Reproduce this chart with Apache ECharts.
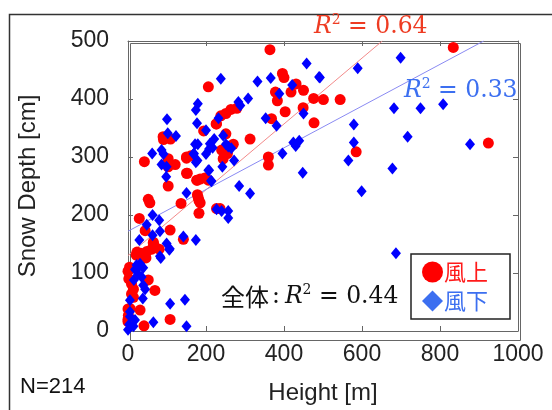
<!DOCTYPE html>
<html><head><meta charset="utf-8">
<script src="https://cdn.jsdelivr.net/npm/echarts@6/dist/echarts.min.js"></script>
<style>html,body{margin:0;padding:0;background:#fff}#c{width:552px;height:410px}</style>
</head><body><div id="c"></div>
<script>
// Height [m], Snow depth [cm]
const windwardPoints = [
 [364,485],[834,489],[206,421],[396,444],[400,437],[431,426],[450,415],[378,412],[418,412],[383,397],
 [476,401],[501,399],[544,399],[449,385],[403,378],[368,366],[477,359],[279,384],[264,382],[251,375],
 [238,371],[227,357],[194,345],[90,335],[109,331],[91,330],[251,340],[270,322],[313,331],[255,306],
 [244,297],[161,302],[150,298],[42,292],[103,297],[121,287],[103,283],[152,272],[178,260],[197,264],
 [360,300],[360,286],[585,309],[924,324],[103,250],[206,260],[52,227],[56,221],[136,220],[178,235],
 [182,225],[182,203],[227,211],[236,211],[29,194],[44,173],[108,174],[142,158],[65,151],[61,141],
 [80,141],[21,131],[33,134],[48,137],[46,126],[0,103],[52,88],[69,70],[9,81],[14,72],
 [9,64],[14,58],[5,39],[31,36],[1,27],[108,20],[0,20],[41,9],[0,16],[185,221],
 [180,230],[176,260],[150,272],[185,262],[150,300],[65,153],[69,145],[23,136],[0,38],[262,318],
 [255,312],[240,312],[226,357],[2,90],[4,110]
];
const leewardPoints = [
 [458,461],[238,435],[332,430],[366,436],[421,424],[490,438],[388,409],[308,401],[283,395],[288,389],
 [450,375],[353,367],[381,354],[232,367],[179,392],[174,381],[100,365],[177,358],[200,346],[102,341],
 [123,336],[244,337],[221,331],[251,322],[210,323],[179,322],[217,316],[257,318],[200,305],[169,306],
 [174,291],[272,294],[62,306],[86,312],[91,305],[86,287],[99,283],[208,277],[213,259],[98,266],
 [448,273],[396,306],[424,325],[439,328],[430,319],[285,250],[699,471],[589,453],[492,437],[682,384],
 [750,384],[808,391],[579,356],[579,325],[717,335],[877,322],[565,294],[678,280],[599,241],[687,134],
 [242,283],[214,258],[313,237],[150,238],[240,207],[257,207],[257,195],[63,200],[80,191],[48,183],
 [82,172],[63,165],[142,163],[174,157],[29,157],[99,151],[106,140],[82,129],[22,114],[31,116],
 [39,109],[18,106],[26,98],[35,93],[39,79],[44,72],[38,56],[5,53],[108,47],[146,54],
 [5,33],[5,25],[65,15],[18,19],[14,8],[3,11],[150,8],[0,2],[206,277],[172,322],
 [168,305],[178,294],[227,210],[84,126],[26,109],[15,88],[107,142],[208,314],[265,315]
];
const windwardFit = [[0,130],[652,500]];
const leewardFit = [[0,172],[912,500]];
const xTicks = [0,200,400,600,800,1000];
const yTicks = [0,100,200,300,400,500];
const seriesNames = ['風上','風下'];
const r2Labels = ['0.64','0.33','0.44'];
const sampleLabel = 'N=214';

const chart = echarts.init(document.getElementById('c'));
const axisFont = 'Liberation Sans';
const mathFont = 'DejaVu Serif';
function r2rich(color, val, prefix){
  return {
    text: (prefix ? '{c|' + prefix + '}{k|:}' : '') + '{i|R}{s|2}{n| = ' + val + '}',
    rich: {
      c: {fontFamily: 'Noto Sans CJK JP', fontSize: 24, fill: color, color: color},
      k: {fontFamily: mathFont, fontSize: 23.5, fill: color, color: color, padding:[0,5,0,3]},
      i: {fontFamily: mathFont, fontStyle: 'italic', fontSize: 23.5, fill: color, color: color},
      s: {fontFamily: mathFont, fontSize: 14, fill: color, color: color, padding: [0,0,13,0]},
      n: {fontFamily: mathFont, fontSize: 23.5, fill: color, color: color}
    }
  };
}
const baseX = {type:'value', min:0, max:1000, interval:200,
  axisLine:{show:true, onZero:false, lineStyle:{color:'#666', width:1}},
  axisTick:{show:true, inside:true, length:5, lineStyle:{color:'#666'}},
  splitLine:{show:false}};
const baseY = {type:'value', min:0, max:500, interval:100,
  axisLine:{show:true, onZero:false, lineStyle:{color:'#666', width:1}},
  axisTick:{show:true, inside:true, length:5, lineStyle:{color:'#666'}},
  splitLine:{show:false}};
chart.setOption({
  animation:false,
  backgroundColor:'#fff',
  grid:{left:128, right:34, top:41, bottom:72, show:false},
  xAxis:[
    Object.assign({}, baseX, {position:'bottom', name:'Height [m]', nameLocation:'middle', nameGap:50,
      nameTextStyle:{fontFamily:axisFont, fontSize:24, color:'#222'},
      axisLabel:{fontFamily:axisFont, fontSize:23, color:'#222', margin:12,
        formatter: v => xTicks.includes(v) ? String(v) : ''}}),
    Object.assign({}, baseX, {position:'top', axisLabel:{show:false}})
  ],
  yAxis:[
    Object.assign({}, baseY, {position:'left', name:'Snow Depth [cm]', nameLocation:'middle', nameGap:88,
      nameTextStyle:{fontFamily:axisFont, fontSize:24, color:'#222'},
      axisLabel:{fontFamily:axisFont, fontSize:23, color:'#222', margin:19,
        formatter: v => yTicks.includes(v) ? String(v) : ''}}),
    Object.assign({}, baseY, {position:'right', axisLabel:{show:false}})
  ],
  legend:{
    orient:'vertical', left:411, top:254,
    backgroundColor:'#fff', borderColor:'#222', borderWidth:1.5, borderRadius:0,
    padding:[7,22,7,11], itemGap:7, itemWidth:21, itemHeight:21,
    textStyle:{fontFamily:'Noto Sans CJK JP', fontSize:22, padding:[0,0,0,-4]},
    data:[
      {name:seriesNames[0], icon:'circle', itemStyle:{color:'#ff0000'}, textStyle:{color:'#ff1a1a'}},
      {name:seriesNames[1], icon:'diamond', itemStyle:{color:'#3c6ff0'}, textStyle:{color:'#3c6ff0'}}
    ]
  },
  series:[
    {name:'fitW', type:'line', data:windwardFit, symbol:'none', silent:true, z:1,
      lineStyle:{color:'#f28a8a', width:1}, clip:true},
    {name:'fitL', type:'line', data:leewardFit, symbol:'none', silent:true, z:1,
      lineStyle:{color:'#8a8af2', width:1}, clip:true},
    {name:seriesNames[0], type:'scatter', data:windwardPoints, symbol:'circle', symbolSize:11,
      itemStyle:{color:'#ff0000', opacity:1}, z:2, clip:false},
    {name:seriesNames[1], type:'scatter', data:leewardPoints, symbol:'diamond', symbolSize:[10,12],
      itemStyle:{color:'#0000ff', opacity:1}, z:3, clip:false}
  ],
  graphic:[
    {type:'rect', left:7, top:12, shape:{width:560, height:420}, style:{fill:'none', stroke:'#333', lineWidth:1.5}, silent:true, z:-1},
    {type:'rect', left:128, top:41, shape:{width:390, height:297}, style:{fill:'none', stroke:'#666', lineWidth:1}, silent:true, z:0},
    {type:'text', left:314, top:13, style: r2rich('#ee3b22', r2Labels[0]), z:10},
    {type:'text', left:404, top:77, style: r2rich('#3c6ff0', r2Labels[1]), z:10},
    {type:'text', left:221, top:283, style: r2rich('#111', r2Labels[2], '全体'), z:10},
    {type:'text', left:20, top:376, style:{text:sampleLabel, fontFamily:axisFont, fontSize:22, fill:'#111'}, z:10}
  ]
});
</script></body></html>
